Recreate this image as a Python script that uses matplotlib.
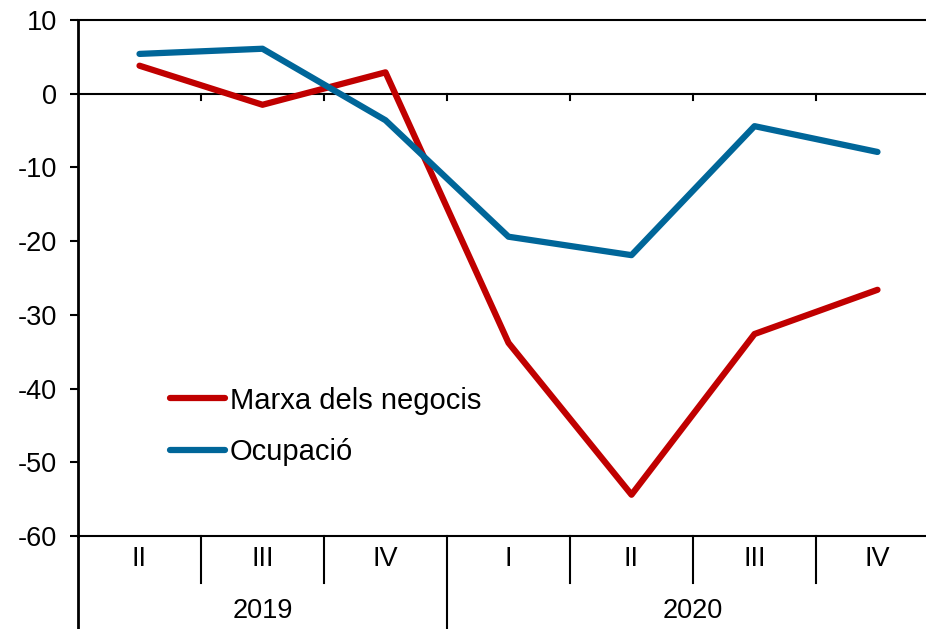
import matplotlib
matplotlib.use('agg')
import matplotlib.pyplot as plt
from matplotlib import transforms

plt.rcParams['font.family'] = ['Liberation Sans', 'DejaVu Sans']
plt.rcParams['axes.unicode_minus'] = False

quarters = ['II', 'III', 'IV', 'I', 'II', 'III', 'IV']
years = ['2019', '2020']
year_spans = [(0, 2), (3, 6)]
marxa = [3.8, -1.5, 2.9, -33.8, -54.4, -32.6, -26.6]
ocupacio = [5.4, 6.1, -3.6, -19.4, -21.9, -4.4, -7.9]

red = '#C00000'
blue = '#006699'

fig = plt.figure(figsize=(9.26, 6.29), dpi=100)
ax = fig.add_axes([78 / 926, 93 / 629, 861 / 926, 516 / 629])

x = list(range(len(quarters)))
ax.plot(x, marxa, color=red, lw=4.5, label='Marxa dels negocis', solid_capstyle='round', zorder=3)
ax.plot(x, ocupacio, color=blue, lw=4.5, label='Ocupació', solid_capstyle='round', zorder=3)
ax.axhline(0, color='black', lw=1.5, zorder=1)

ax.set_xlim(-0.5, len(quarters) - 0.5)
ax.set_ylim(-60, 10)
ax.set_yticks(range(-60, 11, 10))
ax.tick_params(axis='y', labelsize=19.5, length=6, width=1.5, direction='out', pad=9)
ax.set_xticks([])

ax.spines['right'].set_visible(False)
ax.spines['left'].set_linewidth(2)
ax.spines['top'].set_linewidth(1.5)
ax.spines['bottom'].set_linewidth(1.5)

trans = transforms.blended_transform_factory(ax.transData, ax.transAxes)
row1 = -47 / 516
row2 = -93 / 516

# small ticks on the zero line
for b in range(len(quarters) - 1):
    ax.plot([b + 0.5, b + 0.5], [0, -0.8], color='black', lw=1.5, zorder=1)

# quarter labels and separators
for i, q in enumerate(quarters):
    ax.text(i, row1 / 2, q, transform=trans, ha='center', va='center', fontsize=19.5)
for b in range(len(quarters) - 1):
    bottom = row2 if b + 0.5 == 2.5 else row1
    ax.plot([b + 0.5, b + 0.5], [0, bottom], color='black', lw=1.5, transform=trans, clip_on=False)
ax.plot([-0.5, -0.5], [0, row2], color='black', lw=2, transform=trans, clip_on=False)

# year labels
for yr, (a, b) in zip(years, year_spans):
    ax.text((a + b) / 2, (row1 + row2) / 2 - 0.01, yr, transform=trans, ha='center', va='center', fontsize=19.5)

ax.legend(loc='lower left', bbox_to_anchor=(0.093, 0.113), frameon=False, fontsize=21,
          handlelength=1.9, handletextpad=0.17, labelspacing=0.8, borderaxespad=0)

plt.savefig('out.png', dpi=100)
plt.close()
